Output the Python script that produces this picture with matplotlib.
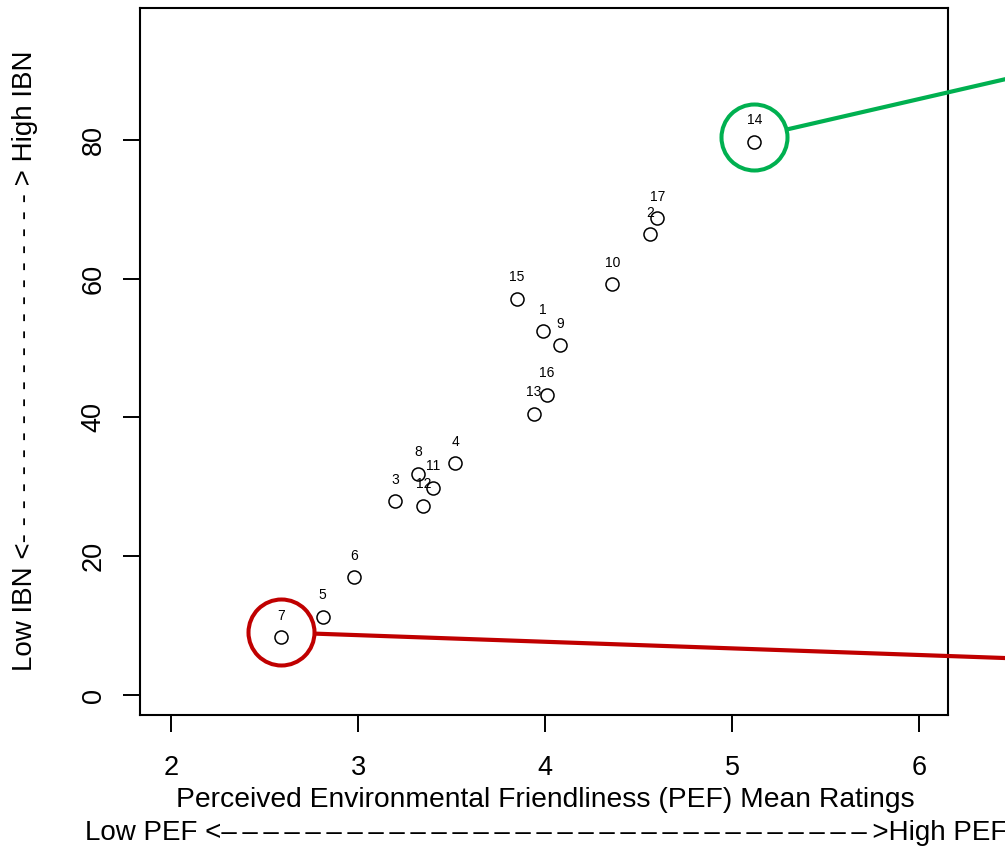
import matplotlib.pyplot as plt

plt.rcParams['font.family'] = ['Liberation Sans', 'DejaVu Sans']

# PEF mean rating (x) and IBN (y) per item
ids = [1, 2, 3, 4, 5, 6, 7, 8, 9, 10, 11, 12, 13, 14, 15, 16, 17]
pef = [3.99, 4.56, 3.20, 3.52, 2.81, 2.98, 2.59, 3.32, 4.08, 4.36,
       3.40, 3.35, 3.94, 5.12, 3.85, 4.01, 4.60]
ibn = [52.4, 66.4, 27.9, 33.4, 11.3, 17.0, 8.3, 31.9, 50.4, 59.2,
       29.9, 27.3, 40.5, 79.7, 57.1, 43.3, 68.7]

# highlighted items: id, colour, where the callout line heads (off to the right)
highlight_ids = [7, 14]
highlight_cols = ['#C00000', '#00B050']
callout_to = [(6.6, 5.2), (6.6, 89.6)]

fig = plt.figure(figsize=(10.05, 8.48), dpi=100)
ax = fig.add_axes([0.1393, 0.1568, 0.804, 0.8338])

ax.plot(pef, ibn, 'o', ms=9.4, mfc='white', mec='black', mew=1.1, zorder=3)
for i, x, y in zip(ids, pef, ibn):
    ax.annotate(str(i), (x, y), xytext=(0, 15.5), textcoords='offset points',
                ha='center', va='center', fontsize=10, zorder=4)

ax.set_xlim(1.834, 6.155)
ax.set_ylim(-2.88, 99.0)
ax.set_xticks([2, 3, 4, 5, 6])
ax.set_yticks([0, 20, 40, 60, 80])
ax.tick_params(axis='both', length=12, width=1.4, labelsize=19.5)
ax.tick_params(axis='x', pad=17)
ax.tick_params(axis='y', pad=12)
for lab in ax.get_yticklabels():
    lab.set_rotation(90)
    lab.set_va('center')
for s in ax.spines.values():
    s.set_linewidth(1.5)

fig.canvas.draw()
r_px = 33
for hid, col, (tx, ty) in zip(highlight_ids, highlight_cols, callout_to):
    k = ids.index(hid)
    cx, cy = ax.transData.transform((pef[k], ibn[k]))
    cy += 5
    ex, ey = ax.transData.transform((tx, ty))
    d = ((ex - cx) ** 2 + (ey - cy) ** 2) ** 0.5
    sx, sy = cx + (ex - cx) * r_px / d, cy + (ey - cy) * r_px / d
    inv = ax.transData.inverted()
    ccx, ccy = inv.transform((cx, cy))
    ssx, ssy = inv.transform((sx, sy))
    ax.plot([ccx], [ccy], 'o', ms=2 * r_px * 0.72, mfc='none', mec=col,
            mew=2.9, zorder=5, clip_on=False)
    ax.plot([ssx, tx], [ssy, ty], color=col, lw=3.0, zorder=5,
            clip_on=False, solid_capstyle='butt')

fig.text(0.543, 1 - 800 / 848, 'Perceived Environmental Friendliness (PEF) Mean Ratings',
         ha='center', va='center', fontsize=20.3)
fig.text(0.543, 1 - 833 / 848, 'Low PEF <' + '\u2013\u2009' * 31 + '>High PEF',
         ha='center', va='center', fontsize=20)
fig.text(25 / 1005, 1 - 361 / 848, 'Low IBN <' + '- ' * 21 + '> High IBN',
         ha='center', va='center', rotation=90, fontsize=20)

fig.savefig('out.png', dpi=100)
